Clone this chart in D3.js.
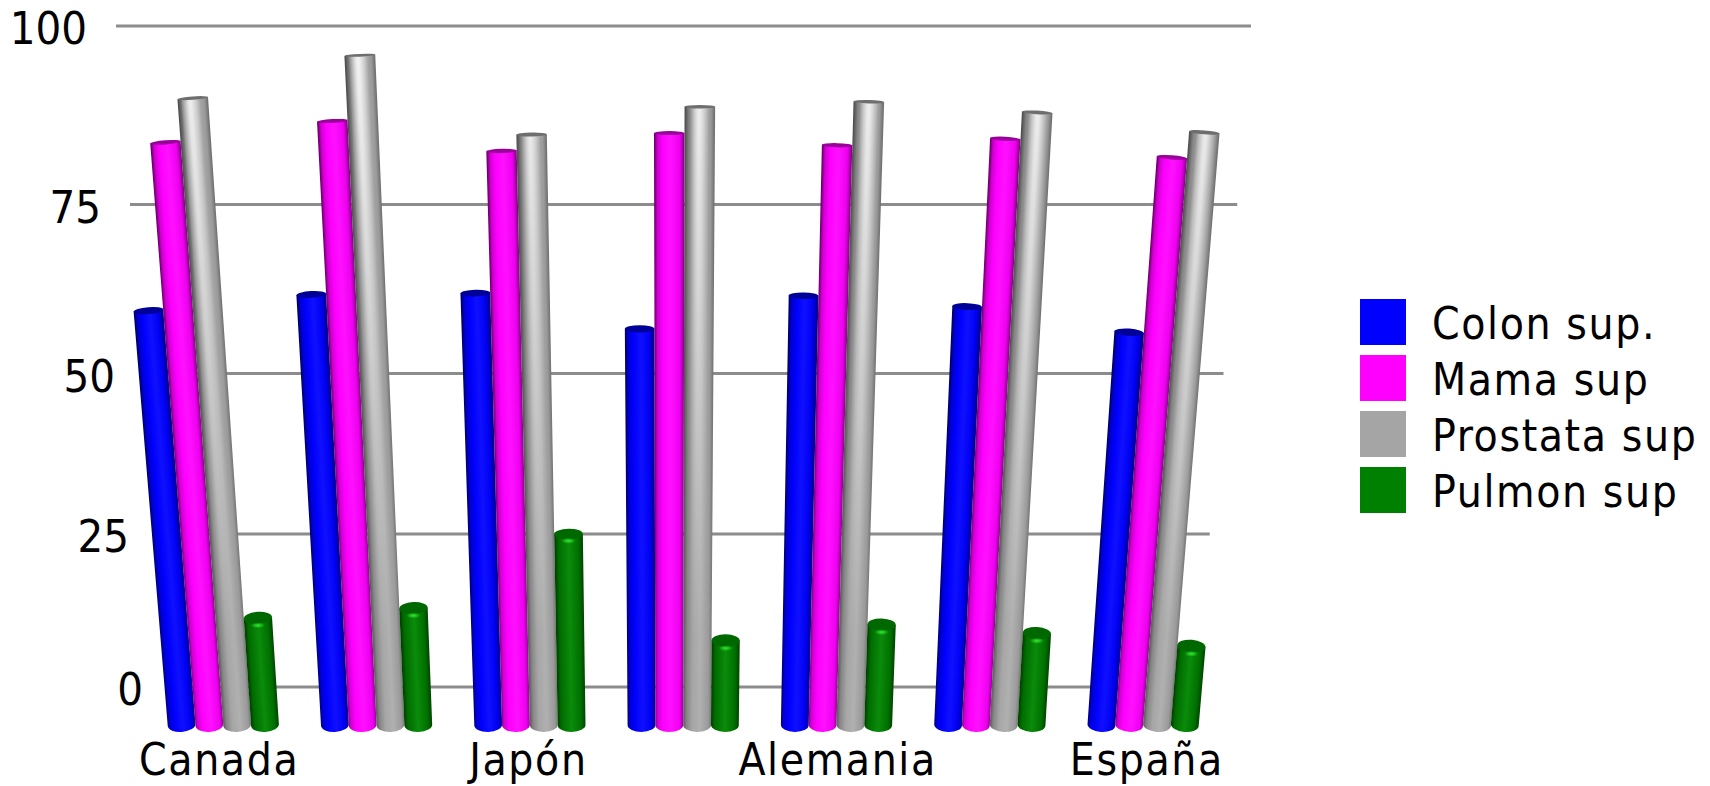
<!DOCTYPE html>
<html lang="es">
<head>
<meta charset="utf-8">
<title>Supervivencia por país</title>
<script src="https://cdn.jsdelivr.net/npm/d3@7"></script>
<style>
  html, body { margin: 0; padding: 0; background: #fff; }
  svg { display: block; }
  text { font-family: "DejaVu Sans", sans-serif; font-stretch: condensed; fill: #000; }
  .wide { letter-spacing: 1.6px; }
</style>
</head>
<body>
<svg id="chart" width="1710" height="786"></svg>
<script>
// Survival percentages by country; only every other country carries a label.
const categories = ["Canada", "", "Japón", "", "Alemania", "", "España"];
const colon    = [59.3, 61.7, 61.9, 56.6, 61.5, 59.9, 56.1];
const mama     = [83.7, 86.7, 82.5, 85.0, 83.3, 84.2, 81.6];
const prostata = [89.9, 95.9, 84.8, 88.7, 89.4, 87.9, 85.1];
const pulmon   = [11.3, 12.9, 25.0,  7.6, 10.2,  8.8,  6.7];
const seriesNames = ["Colon sup.", "Mama sup", "Prostata sup", "Pulmon sup"];
const seriesValues = [colon, mama, prostata, pulmon];
const yTicks = [0, 25, 50, 75, 100];

// Shading for each cylinder: offset/colour stops across the width, then cap and swatch.
const looks = [
  { swatch: "#0000ff", cap: "#000098", stops: [[0, "#000068"], [0.1, "#0000d0"], [0.28, "#0000ff"], [0.55, "#1010ff"], [0.82, "#0000f4"], [1, "#00008a"]] },
  { swatch: "#ff00ff", cap: "#9a009a", stops: [[0, "#700070"], [0.1, "#d000d0"], [0.28, "#ff00ff"], [0.55, "#ff10ff"], [0.85, "#f000f0"], [1, "#900090"]] },
  { swatch: "#a5a5a5", cap: "#6e6e6e", glow: 0.85, stops: [[0, "#505050"], [0.14, "#868686"], [0.34, "#a6a6a6"], [0.6, "#b0b0b0"], [0.88, "#9a9a9a"], [1, "#727272"]] },
  { swatch: "#008000", cap: "#006800", spot: "#30f030", stops: [[0, "#003c00"], [0.14, "#006c00"], [0.5, "#0a8c0a"], [0.84, "#007000"], [1, "#004400"]] }
];

const svg = d3.select("#chart");
const defs = svg.append("defs");

// Value axis follows the perspective of the back wall, so spacing grows upwards.
const y = d3.scaleLinear().domain(yTicks).range([687, 534, 373.5, 204.5, 26]);
const gridLeft = d3.scaleLinear().domain([0, 100]).range([172, 116]);
const gridRight = d3.scaleLinear().domain([0, 100]).range([1196, 1251]);

const xGroup = d3.scaleBand().domain(d3.range(categories.length))
  .range([167.7, 1198.7]).paddingInner(0.2746).paddingOuter(0);
const xBar = d3.scaleBand().domain(d3.range(seriesNames.length))
  .range([0, xGroup.bandwidth()]);
// Labels lie on the floor's front edge, slightly wider than the bar bases.
const xLabel = d3.scaleBand().domain(d3.range(categories.length)).range([141.9, 1224.1]);

// Verticals converge towards a point far below the floor.
const floorY = 725, vanishX = 670, vanishDepth = 6100;
const spread = py => 1 + (floorY - py) / vanishDepth;
const project = (xb, py) => vanishX + (xb - vanishX) * spread(py);
const capRadius = py => 1.7 + 0.0083 * (py - 97);

// Highlights fade out towards the floor.
const fade = defs.append("linearGradient").attr("id", "fade")
  .attr("gradientUnits", "userSpaceOnUse")
  .attr("x1", 0).attr("x2", 0).attr("y1", 50).attr("y2", 640);
fade.append("stop").attr("offset", 0).attr("stop-color", "#fff");
fade.append("stop").attr("offset", 1).attr("stop-color", "#000");
defs.append("mask").attr("id", "fadeMask")
  .attr("maskUnits", "userSpaceOnUse")
  .attr("x", 0).attr("y", 0).attr("width", 1710).attr("height", 786)
  .append("rect").attr("width", 1710).attr("height", 786).attr("fill", "url(#fade)");

const spotGrad = defs.append("radialGradient").attr("id", "greenSpot");
spotGrad.append("stop").attr("offset", 0).attr("stop-color", looks[3].spot).attr("stop-opacity", 0.95);
spotGrad.append("stop").attr("offset", 1).attr("stop-color", looks[3].spot).attr("stop-opacity", 0);

// Back wall grid
svg.append("g").selectAll("line").data(yTicks).join("line")
  .attr("x1", gridLeft).attr("x2", gridRight)
  .attr("y1", y).attr("y2", y)
  .attr("stroke", "#8c8c8c").attr("stroke-width", 3);

// Value labels sit just left of each grid line
svg.append("g").selectAll("text").data(yTicks).join("text")
  .attr("x", d => gridLeft(d) - 29)
  .attr("y", d => y(d) + 2)
  .attr("dy", "0.36em")
  .attr("text-anchor", "end")
  .attr("font-size", 45)
  .text(d => d);

// Cylinders
const bars = svg.append("g");
categories.forEach((_, g) => {
  seriesNames.forEach((_, s) => {
    const look = looks[s];
    const xb = xGroup(g) + xBar(s) + xBar.bandwidth() / 2;
    const halfW = xBar.bandwidth() / 2;
    const topY = y(seriesValues[s][g]);
    const tx = project(xb, topY);
    const bx = project(xb, floorY);
    const topHalf = halfW * spread(topY);
    const botHalf = halfW * spread(floorY);
    const ryTop = capRadius(topY);
    const ryBot = capRadius(floorY);
    const rot = Math.atan2(bx - tx, floorY - topY);
    const deg = -rot * 180 / Math.PI;
    const cos = Math.cos(rot), sin = Math.sin(rot);

    const tl = [tx - topHalf * cos, topY + topHalf * sin];
    const tr = [tx + topHalf * cos, topY - topHalf * sin];
    const bl = [bx - botHalf * cos, floorY + botHalf * sin];
    const br = [bx + botHalf * cos, floorY - botHalf * sin];
    const body = `M${tl} L${bl} A${botHalf},${ryBot} ${deg} 0 0 ${br} L${tr} Z`;

    // Gradient vector runs across the cylinder, perpendicular to its leaning axis.
    const mx = (tx + bx) / 2, my = (topY + floorY) / 2;
    const midHalf = (topHalf + botHalf) / 2;
    const lean = (xb - vanishX) / 500;
    const vec = sel => sel
      .attr("gradientUnits", "userSpaceOnUse")
      .attr("x1", mx - midHalf * cos).attr("y1", my + midHalf * sin)
      .attr("x2", mx + midHalf * cos).attr("y2", my - midHalf * sin);

    const id = `bar-${g}-${s}`;
    const grad = defs.append("linearGradient").attr("id", id).call(vec);
    look.stops.forEach(([o, c]) => grad.append("stop").attr("offset", o).attr("stop-color", c));
    bars.append("path").attr("d", body).attr("fill", `url(#${id})`);

    if (look.glow) {
      const peak = 0.48 + 0.07 * lean;
      const glow = defs.append("linearGradient").attr("id", id + "-glow").call(vec);
      [[peak - 0.32, 0], [peak - 0.05, look.glow], [peak + 0.03, look.glow], [peak + 0.34, 0]]
        .forEach(([o, a]) => glow.append("stop").attr("offset", o)
          .attr("stop-color", "#fff").attr("stop-opacity", a));
      bars.append("path").attr("d", body).attr("fill", `url(#${id}-glow)`).attr("mask", "url(#fadeMask)");
    }

    bars.append("ellipse")
      .attr("cx", tx).attr("cy", topY)
      .attr("rx", topHalf).attr("ry", ryTop)
      .attr("transform", `rotate(${deg} ${tx} ${topY})`)
      .attr("fill", look.cap);

    if (look.spot) {
      bars.append("ellipse")
        .attr("cx", tx).attr("cy", topY + ryTop + 1.5)
        .attr("rx", topHalf * 0.5).attr("ry", 3)
        .attr("fill", "url(#greenSpot)");
    }
  });
});

// Country labels under each group
const xAxis = d3.axisBottom(xLabel).tickSize(0).tickPadding(0).tickFormat(i => categories[i]);
const axisG = svg.append("g").attr("transform", "translate(0,775)").call(xAxis);
axisG.select(".domain").remove();
axisG.attr("font-family", null).attr("font-size", null);
axisG.selectAll("text")
  .attr("y", 0).attr("dy", 0)
  .attr("class", "wide")
  .attr("font-size", 44);

// Legend
const legend = svg.append("g").selectAll("g").data(seriesNames).join("g")
  .attr("transform", (d, i) => `translate(1360,${299 + i * 56})`);
legend.append("rect").attr("width", 46).attr("height", 46).attr("fill", (d, i) => looks[i].swatch);
legend.append("text").attr("class", "wide").attr("x", 72).attr("y", 40).attr("font-size", 44).text(d => d);
</script>
</body>
</html>
